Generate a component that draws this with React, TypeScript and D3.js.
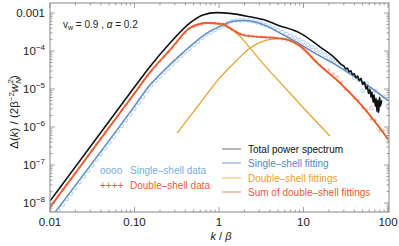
import { useEffect, useRef } from 'react';
import * as d3 from 'd3';

const W = 399;
const H = 246;

// curves as [log10 k, log10 Δ]
const totalCurve = [
  [-2, -7.95], [-1, -4.95], [-0.82, -4.42], [-0.58, -3.79], [-0.343, -3.26], [-0.19, -3.05],
  [-0.024, -2.99], [0.13, -3.01], [0.367, -3.1], [0.55, -3.19], [0.698, -3.32], [0.959, -3.53],
  [1.195, -3.89], [1.396, -4.24], [1.42, -4.3], [1.45, -4.36], [1.48, -4.4], [1.5, -4.47],
  [1.52, -4.45], [1.54, -4.55], [1.56, -4.52], [1.58, -4.62], [1.6, -4.6], [1.62, -4.7],
  [1.64, -4.66], [1.66, -4.78], [1.68, -4.72], [1.7, -4.88], [1.72, -4.82], [1.74, -5.0],
  [1.755, -4.92], [1.77, -5.12], [1.785, -5.0], [1.8, -5.22], [1.81, -5.08], [1.825, -5.35],
  [1.835, -5.15], [1.85, -5.45], [1.86, -5.25], [1.87, -5.6], [1.88, -5.3], [1.89, -5.62],
  [1.9, -5.22], [1.91, -5.45], [1.925, -5.3],
];

const singleFit = [
  [-2, -8.42], [-1, -5.45], [-0.82, -4.9], [-0.7, -4.62], [-0.43, -4.05], [-0.142, -3.53],
  [0.047, -3.32], [0.166, -3.22], [0.3, -3.2], [0.45, -3.25], [0.6, -3.38], [0.722, -3.53],
  [0.959, -3.82], [1.112, -4.03], [1.349, -4.32], [1.515, -4.55], [1.751, -4.89], [2.0, -5.3],
];

const doubleFitA = [
  [-2, -8.12], [-1, -5.12], [-0.82, -4.58], [-0.58, -3.98], [-0.343, -3.4], [-0.142, -3.275],
  [0.0, -3.3], [0.095, -3.37], [0.25, -3.62], [0.367, -3.92], [0.485, -4.24], [0.72, -4.82],
  [1.0, -5.5], [1.314, -6.24],
];

const doubleFitB = [
  [-0.497, -6.16], [-0.25, -5.45], [-0.012, -4.76], [0.213, -4.24], [0.367, -3.92],
  [0.55, -3.72], [0.686, -3.675], [0.76, -3.67], [0.85, -3.74], [0.959, -3.88],
  [1.112, -4.21], [1.432, -4.85], [1.704, -5.48], [1.905, -6.04], [2.0, -6.33],
];

const doubleSum = [
  [-2, -8.11], [-1, -5.11], [-0.82, -4.57], [-0.58, -3.97], [-0.343, -3.39], [-0.142, -3.26],
  [0.047, -3.29], [0.166, -3.45], [0.284, -3.58], [0.485, -3.63], [0.686, -3.66], [0.85, -3.73],
  [0.959, -3.87], [1.05, -4.04], [1.112, -4.2], [1.432, -4.84], [1.704, -5.47], [1.905, -6.03],
  [2.0, -6.32],
];

// simulation data points: log10 k and log10 Δ
const markerLogK = [
  -2.0, -1.95, -1.9, -1.85, -1.8, -1.75, -1.7, -1.65, -1.6, -1.55, -1.5, -1.45, -1.4, -1.35,
  -1.3, -1.25, -1.2, -1.15, -1.1, -1.05, -1.0, -0.95, -0.9, -0.85, -0.8, -0.75, -0.7, -0.65,
  -0.6, -0.55, -0.5, -0.45, -0.4, -0.35, -0.3, -0.25, -0.2, -0.15, -0.1, -0.05, 0.0, 0.05,
  0.1, 0.15, 0.2, 0.25, 0.3, 0.35, 0.4, 0.45, 0.5, 0.55, 0.6, 0.65, 0.7, 0.75, 0.8, 0.85,
  0.9, 0.95, 1.0, 1.05, 1.1, 1.15, 1.2, 1.25, 1.3, 1.35, 1.4, 1.45, 1.5, 1.55, 1.6, 1.65,
  1.7, 1.75, 1.8, 1.85, 1.9, 1.95, 2.0,
];

const singleData = [
  -8.49, -8.34, -8.19, -8.04, -7.9, -7.75, -7.6, -7.45, -7.3, -7.15, -7.01, -6.86, -6.71, -6.56,
  -6.41, -6.26, -6.11, -5.97, -5.82, -5.67, -5.52, -5.36, -5.21, -5.05, -4.9, -4.78, -4.67, -4.56,
  -4.46, -4.35, -4.25, -4.13, -4.03, -3.94, -3.84, -3.76, -3.66, -3.57, -3.51, -3.45, -3.39, -3.33,
  -3.27, -3.22, -3.2, -3.19, -3.19, -3.2, -3.22, -3.25, -3.28, -3.32, -3.36, -3.41, -3.46, -3.5,
  -3.55, -3.6, -3.65, -3.71, -3.77, -3.84, -3.9, -3.97, -4.03, -4.1, -4.17, -4.24, -4.33, -4.42,
  -4.5, -4.56, -4.7, -4.76, -5.05, -4.85, -5.5, -5.05, -5.3, -5.2, -5.45,
];

const doubleData = [
  -8.11, -7.96, -7.81, -7.66, -7.51, -7.36, -7.21, -7.06, -6.91, -6.76, -6.61, -6.46, -6.31, -6.16,
  -6.01, -5.86, -5.71, -5.56, -5.41, -5.26, -5.11, -4.96, -4.81, -4.66, -4.52, -4.4, -4.27, -4.15,
  -4.02, -3.9, -3.78, -3.66, -3.53, -3.41, -3.36, -3.33, -3.29, -3.26, -3.26, -3.27, -3.28, -3.29,
  -3.36, -3.43, -3.49, -3.55, -3.58, -3.6, -3.61, -3.62, -3.63, -3.64, -3.65, -3.655, -3.67, -3.69,
  -3.71, -3.74, -3.79, -3.85, -3.94, -4.04, -4.16, -4.28, -4.38, -4.47, -4.5, -4.6, -4.68, -4.82,
  -5.02, -5.08, -5.25, -5.3, -5.5, -5.55, -5.8, -5.82, -6.1, -6.1, -6.4,
];

const xTicks = [0.01, 0.1, 1, 10, 100];
const xTickLabels = ['0.01', '0.10', '1', '10', '100'];
const yTickExps = [-3, -4, -5, -6, -7, -8];

const BLACK = '#111111';
const BLUE = '#5a86c6';
const BLUE_PT = '#79ade2';
const ORANGE = '#e6a22c';
const RED = '#ec5a32';
const FONT = '"Liberation Sans", Arial, sans-serif';

export default function App() {
  const svgRef = useRef<SVGSVGElement>(null);

  useEffect(() => {
    const svg = d3.select(svgRef.current);
    svg.selectAll('*').remove();

    const left = 50, right = 389, top = 3, bottom = 212;
    const x = d3.scaleLog().domain([0.01, 100]).range([left, 388]);
    const y = d3.scaleLog().domain([10 ** -2.737, 10 ** -8.237]).range([top, bottom]);

    svg.append('defs').append('clipPath').attr('id', 'plotclip')
      .append('rect').attr('x', left).attr('y', top).attr('width', right - left).attr('height', bottom - top);

    const plot = svg.append('g').attr('clip-path', 'url(#plotclip)');

    const line = d3.line<number[]>()
      .x(d => x(10 ** d[0]))
      .y(d => y(10 ** d[1]))
      .curve(d3.curveMonotoneX);

    const drawCurve = (data: number[][], color: string, width: number) => {
      plot.append('path').datum(data)
        .attr('fill', 'none').attr('stroke', color).attr('stroke-width', width)
        .attr('stroke-linejoin', 'round').attr('d', line);
    };

    drawCurve(doubleFitA, ORANGE, 1.2);
    drawCurve(doubleFitB, ORANGE, 1.2);
    drawCurve(singleFit, BLUE, 1.5);

    // data markers
    markerLogK.forEach((lk, i) => {
      plot.append('circle')
        .attr('cx', x(10 ** lk)).attr('cy', y(10 ** singleData[i])).attr('r', 1.8)
        .attr('fill', 'none').attr('stroke', BLUE_PT).attr('stroke-width', 0.7).attr('opacity', 0.85);
    });
    drawCurve(doubleSum, RED, 1.7);
    markerLogK.forEach((lk, i) => {
      const cx = x(10 ** lk), cy = y(10 ** doubleData[i]);
      plot.append('path')
        .attr('d', `M${cx - 1.8},${cy}H${cx + 1.8}M${cx},${cy - 1.8}V${cy + 1.8}`)
        .attr('stroke', RED).attr('stroke-width', 0.7).attr('opacity', 0.6);
    });
    drawCurve(totalCurve, BLACK, 1.6);

    // frame
    const axisColor = '#9a9a9a';
    svg.append('rect').attr('x', left).attr('y', top).attr('width', right - left).attr('height', bottom - top)
      .attr('fill', 'none').attr('stroke', axisColor).attr('stroke-width', 1.2);

    const ticks = svg.append('g').attr('stroke', '#888').attr('stroke-width', 0.8);
    // x ticks (bottom + top)
    for (let e = -2; e <= 2; e++) {
      for (let m = 1; m <= 9; m++) {
        const v = m * 10 ** e;
        if (v > 100.0001) continue;
        const len = m === 1 ? 5 : 2.5;
        const px = x(v);
        ticks.append('line').attr('x1', px).attr('x2', px).attr('y1', bottom).attr('y2', bottom - len);
        ticks.append('line').attr('x1', px).attr('x2', px).attr('y1', top).attr('y2', top + len);
      }
    }
    // y ticks (left + right)
    for (let e = -9; e <= -3; e++) {
      for (let m = 1; m <= 9; m++) {
        const v = m * 10 ** e;
        const py = y(v);
        if (py < top - 0.1 || py > bottom + 0.1) continue;
        const len = m === 1 ? 5 : 2.5;
        ticks.append('line').attr('y1', py).attr('y2', py).attr('x1', left).attr('x2', left + len);
        ticks.append('line').attr('y1', py).attr('y2', py).attr('x1', right).attr('x2', right - len);
      }
    }

    // x tick labels
    xTicks.forEach((v, i) => {
      svg.append('text').attr('x', x(v)).attr('y', 226)
        .attr('text-anchor', 'middle').attr('font-family', FONT).attr('font-size', 11.5)
        .attr('fill', '#222').text(xTickLabels[i]);
    });

    // y tick labels
    yTickExps.forEach(e => {
      const py = y(10 ** e) + 4;
      if (e === -3) {
        svg.append('text').attr('x', 45).attr('y', py).attr('text-anchor', 'end')
          .attr('font-family', FONT).attr('font-size', 11.5).attr('fill', '#222').text('0.001');
      } else {
        const t = svg.append('text').attr('x', 45).attr('y', py).attr('text-anchor', 'end')
          .attr('font-family', FONT).attr('font-size', 11.5).attr('fill', '#222');
        t.append('tspan').text('10');
        t.append('tspan').attr('dy', -5).attr('font-size', 8).text(`\u2212${-e}`);
      }
    });

    // axis titles
    const xt = svg.append('text').attr('x', 221).attr('y', 240).attr('text-anchor', 'middle')
      .attr('font-family', FONT).attr('font-size', 11).attr('fill', '#222');
    xt.append('tspan').attr('font-style', 'italic').text('k');
    xt.append('tspan').text(' / ');
    xt.append('tspan').attr('font-style', 'italic').text('\u03b2');

    const yt = svg.append('text').attr('transform', 'translate(18,112) rotate(-90)')
      .attr('text-anchor', 'middle').attr('font-family', FONT).attr('font-size', 11.5).attr('fill', '#222');
    yt.append('tspan').text('\u0394(');
    yt.append('tspan').attr('font-style', 'italic').text('k');
    yt.append('tspan').text(') / (2\u03b2');
    yt.append('tspan').attr('dy', -4).attr('font-size', 8).text('\u22122');
    yt.append('tspan').attr('dy', 4).attr('font-style', 'italic').text('w');
    yt.append('tspan').attr('dy', 2.5).attr('font-size', 8).attr('font-style', 'italic').text('N');
    yt.append('tspan').attr('dx', -5.5).attr('dy', -7.5).attr('font-size', 8).text('2');
    yt.append('tspan').attr('dy', 5).text(')');

    // annotation
    const an = svg.append('text').attr('x', 63).attr('y', 28)
      .attr('font-family', FONT).attr('font-size', 10).attr('fill', '#222');
    an.append('tspan').text('v');
    an.append('tspan').attr('dy', 2).attr('font-size', 7).text('w');
    an.append('tspan').attr('dy', -2).text(' = 0.9 , ');
    an.append('tspan').attr('font-style', 'italic').text('\u03b1');
    an.append('tspan').text(' = 0.2');

    // legend: data
    const legData = [
      { sym: 'oooo', label: 'Single\u2013shell data', color: BLUE_PT, y: 174 },
      { sym: '++++', label: 'Double\u2013shell data', color: RED, y: 189 },
    ];
    legData.forEach(d => {
      svg.append('text').attr('x', 100).attr('y', d.y).attr('font-family', FONT).attr('font-size', 10)
        .attr('fill', d.color).text(d.sym);
      svg.append('text').attr('x', 130).attr('y', d.y).attr('font-family', FONT).attr('font-size', 10)
        .attr('fill', d.color).text(d.label);
    });

    // legend: lines
    const legLines = [
      { label: 'Total power spectrum', color: BLACK, line: '#888', y: 149 },
      { label: 'Single\u2013shell fitting', color: BLUE, line: '#8fb0dc', y: 163 },
      { label: 'Double\u2013shell fittings', color: ORANGE, line: '#f0c67a', y: 178 },
      { label: 'Sum of double\u2013shell fittings', color: RED, line: '#f29a80', y: 192 },
    ];
    legLines.forEach(d => {
      svg.append('line').attr('x1', 222).attr('x2', 241).attr('y1', d.y).attr('y2', d.y)
        .attr('stroke', d.line).attr('stroke-width', 1.2);
      svg.append('text').attr('x', 248).attr('y', d.y + 3.5).attr('font-family', FONT).attr('font-size', 10)
        .attr('fill', d.color).text(d.label);
    });
  }, []);

  return (
    <svg ref={svgRef} width={W} height={H}
      style={{ position: 'absolute', left: 0, top: 0, background: '#fff' }} />
  );
}
